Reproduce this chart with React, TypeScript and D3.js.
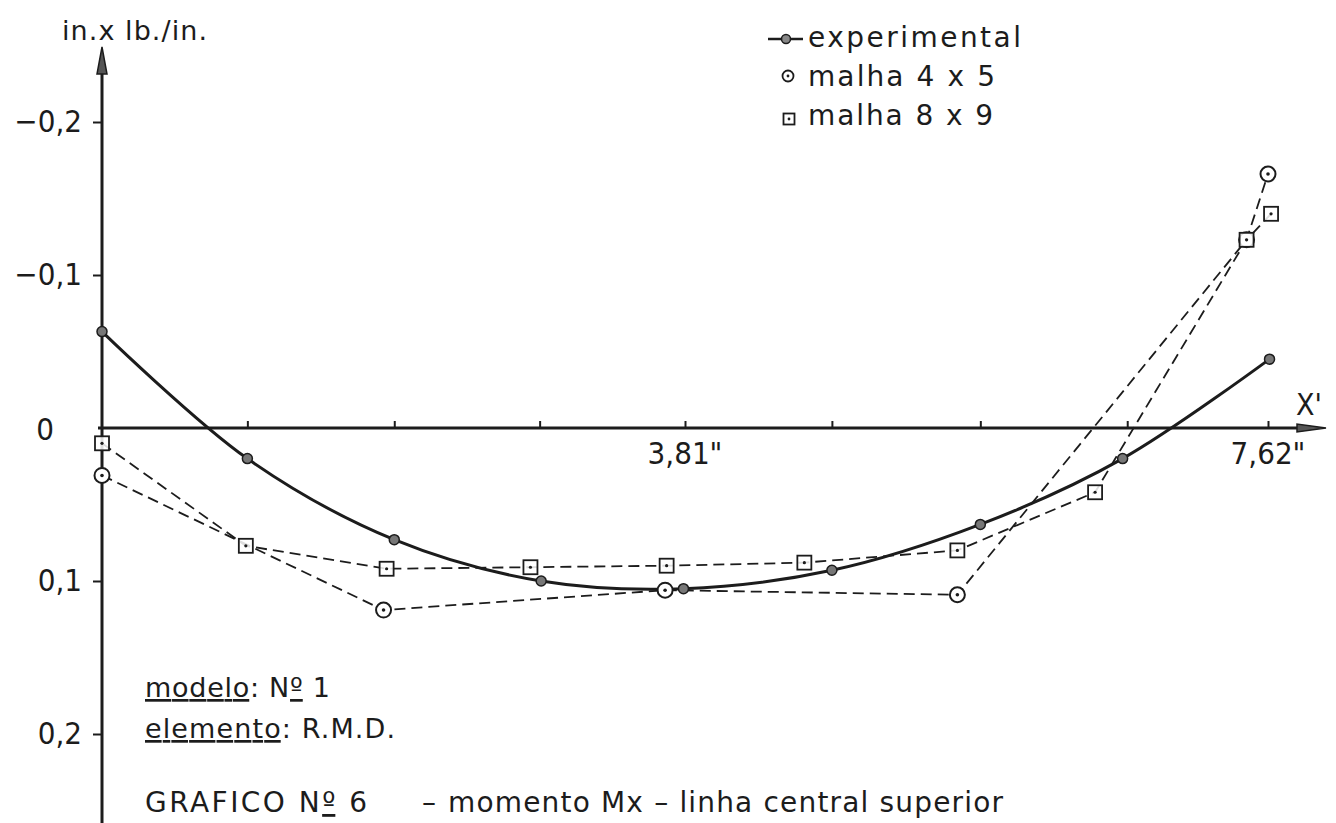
import React, { useEffect, useRef } from "react";
import * as d3 from "d3";

// values (X' in inches, moment in in.x lb./in.)
const expX = [0, 0.95, 1.91, 2.87, 3.8, 4.77, 5.74, 6.67, 7.63];
const expY = [-0.063, 0.02, 0.073, 0.1, 0.105, 0.093, 0.063, 0.02, -0.045];

const m45X = [0, 1.84, 3.68, 5.59, 7.48, 7.62];
const m45Y = [0.031, 0.119, 0.106, 0.109, -0.123, -0.166];

const m89X = [0, 0.94, 1.86, 2.8, 3.69, 4.59, 5.59, 6.49, 7.48, 7.64];
const m89Y = [0.01, 0.077, 0.092, 0.091, 0.09, 0.088, 0.08, 0.042, -0.123, -0.14];

const xTicks = [0.95, 1.91, 2.86, 3.81, 4.77, 5.74, 6.7, 7.62];
const xLabelValues = [3.81, 7.62];
const xLabelTexts = ['3,81"', '7,62"'];
const yTicks = [-0.2, -0.1, 0.1, 0.2];
const yTickLabels = ["\u22120,2", "\u22120,1", "0,1", "0,2"];
const legendLabels = ["experimental", "malha 4 x 5", "malha 8 x 9"];
const legendWidths = [213, 187, 185];

const NUM_FONT = "'DejaVu Sans Condensed', 'DejaVu Sans', sans-serif";
const FONT = "'DejaVu Sans', sans-serif";
const INK = "#1c1c1c";

export default function App() {
    const ref = useRef<SVGSVGElement>(null);

    useEffect(() => {
        document.body.style.margin = "0";
        const svg = d3.select(ref.current);
        svg.selectAll("*").remove();

        const width = 1336;
        const height = 823;
        svg.attr("width", width).attr("height", height);
        svg.append("rect").attr("width", width).attr("height", height).attr("fill", "#fff");

        const x = d3.scaleLinear().domain([0, 7.62]).range([102, 1268]);
        const y = d3.scaleLinear().domain([-0.2, 0.2]).range([122, 734]);
        const x0 = x(0);
        const y0 = y(0);

        // axis lines with arrows
        svg.append("line")
            .attr("x1", x0).attr("x2", x0).attr("y1", 823).attr("y2", 60)
            .attr("stroke", INK).attr("stroke-width", 3);
        svg.append("path")
            .attr("d", `M${x0},47 L${x0 - 5},74 L${x0 + 5},74 Z`)
            .attr("fill", "#555").attr("stroke", INK).attr("stroke-width", 1.5);
        svg.append("line")
            .attr("x1", x0 - 4).attr("x2", 1305).attr("y1", y0).attr("y2", y0)
            .attr("stroke", INK).attr("stroke-width", 3);
        svg.append("path")
            .attr("d", `M1326,${y0} L1297,${y0 - 4} L1297,${y0 + 4} Z`)
            .attr("fill", "#555").attr("stroke", INK).attr("stroke-width", 1.5);

        // x ticks (upwards, no labels)
        const gx = svg.append("g")
            .attr("transform", `translate(0,${y0})`)
            .call(d3.axisTop(x).tickValues(xTicks).tickSize(7).tickFormat(() => ""));
        gx.select(".domain").remove();
        gx.selectAll("line").attr("stroke", INK).attr("stroke-width", 2);

        svg.append("g").selectAll("text")
            .data(xLabelValues)
            .join("text")
            .attr("x", (d) => x(d))
            .attr("y", y0 + 36)
            .attr("text-anchor", "middle")
            .attr("font-family", NUM_FONT)
            .attr("font-size", 31)
            .attr("fill", INK)
            .text((d, i) => xLabelTexts[i]);

        svg.append("text")
            .attr("x", 1296).attr("y", y0 - 13)
            .attr("font-family", NUM_FONT).attr("font-size", 30).attr("fill", INK)
            .text("X'");

        // y ticks
        const gy = svg.append("g")
            .attr("transform", `translate(${x0},0)`)
            .call(d3.axisLeft(y).tickValues(yTicks).tickSize(9).tickPadding(11)
                .tickFormat((d, i) => yTickLabels[i]));
        gy.select(".domain").remove();
        gy.selectAll("line").attr("stroke", INK).attr("stroke-width", 2);
        gy.selectAll("text")
            .attr("font-family", NUM_FONT).attr("font-size", 31).attr("fill", INK);

        svg.append("text")
            .attr("x", 45).attr("y", y0 + 12)
            .attr("text-anchor", "middle")
            .attr("font-family", NUM_FONT).attr("font-size", 31).attr("fill", INK)
            .text("0");

        svg.append("text")
            .attr("x", 62).attr("y", 40)
            .attr("font-family", FONT).attr("font-size", 27).attr("fill", INK)
            .attr("textLength", 145).attr("lengthAdjust", "spacing")
            .text("in.x lb./in.");

        // dashed series
        const dashed = (xs: number[], ys: number[]) =>
            d3.line<number>()
                .x((d) => x(d))
                .y((d, i) => y(ys[i]))(xs);

        svg.append("path")
            .attr("d", dashed(m45X, m45Y))
            .attr("fill", "none").attr("stroke", INK).attr("stroke-width", 1.8)
            .attr("stroke-dasharray", "11 6");
        svg.append("path")
            .attr("d", dashed(m89X, m89Y))
            .attr("fill", "none").attr("stroke", INK).attr("stroke-width", 1.8)
            .attr("stroke-dasharray", "11 6");

        // experimental smooth curve
        const curve = d3.line<number>()
            .x((d) => x(d))
            .y((d, i) => y(expY[i]))
            .curve(d3.curveCatmullRom.alpha(0.5));
        svg.append("path")
            .attr("d", curve(expX))
            .attr("fill", "none").attr("stroke", INK).attr("stroke-width", 3);

        // markers
        const g45 = svg.append("g").selectAll("g")
            .data(m45X).join("g")
            .attr("transform", (d, i) => `translate(${x(d)},${y(m45Y[i])})`);
        g45.append("circle").attr("r", 7.5).attr("fill", "#fff")
            .attr("stroke", INK).attr("stroke-width", 2);
        g45.append("circle").attr("r", 1.8).attr("fill", INK);

        const g89 = svg.append("g").selectAll("g")
            .data(m89X).join("g")
            .attr("transform", (d, i) => `translate(${x(d)},${y(m89Y[i])})`);
        g89.append("rect").attr("x", -7).attr("y", -7).attr("width", 14).attr("height", 14)
            .attr("fill", "#fff").attr("fill-opacity", 0.85)
            .attr("stroke", INK).attr("stroke-width", 1.8);
        g89.append("circle").attr("r", 1.6).attr("fill", INK);

        svg.append("g").selectAll("circle")
            .data(expX).join("circle")
            .attr("cx", (d) => x(d))
            .attr("cy", (d, i) => y(expY[i]))
            .attr("r", 5)
            .attr("fill", "#777").attr("stroke", INK).attr("stroke-width", 1.5);

        // legend
        const legend = svg.append("g");
        legend.append("line")
            .attr("x1", 768).attr("x2", 803).attr("y1", 39).attr("y2", 39)
            .attr("stroke", INK).attr("stroke-width", 2.5);
        legend.append("circle").attr("cx", 786).attr("cy", 39).attr("r", 4.5)
            .attr("fill", "#888").attr("stroke", INK).attr("stroke-width", 1.5);
        legend.append("circle").attr("cx", 788).attr("cy", 76).attr("r", 5.5)
            .attr("fill", "#fff").attr("stroke", INK).attr("stroke-width", 1.8);
        legend.append("circle").attr("cx", 788).attr("cy", 76).attr("r", 1.4).attr("fill", INK);
        legend.append("rect").attr("x", 783.5).attr("y", 113.5).attr("width", 11).attr("height", 11)
            .attr("fill", "#fff").attr("stroke", INK).attr("stroke-width", 1.8);
        legend.append("circle").attr("cx", 789).attr("cy", 119).attr("r", 1.4).attr("fill", INK);
        legend.selectAll("text")
            .data(legendLabels).join("text")
            .attr("x", 808)
            .attr("y", (d, i) => 47 + i * 39)
            .attr("font-family", FONT).attr("font-size", 28).attr("fill", INK)
            .attr("textLength", (d, i) => legendWidths[i]).attr("lengthAdjust", "spacing")
            .text((d) => d);

        // notes at the bottom
        const note1 = svg.append("text")
            .attr("x", 145).attr("y", 697)
            .attr("font-family", FONT).attr("font-size", 27).attr("fill", INK)
            .attr("textLength", 185).attr("lengthAdjust", "spacing");
        note1.append("tspan").attr("text-decoration", "underline").text("modelo");
        note1.append("tspan").text(": N");
        note1.append("tspan").attr("text-decoration", "underline").text("º");
        note1.append("tspan").text(" 1");

        const note2 = svg.append("text")
            .attr("x", 145).attr("y", 738)
            .attr("font-family", FONT).attr("font-size", 27).attr("fill", INK)
            .attr("textLength", 250).attr("lengthAdjust", "spacing");
        note2.append("tspan").attr("text-decoration", "underline").text("elemento");
        note2.append("tspan").text(": R.M.D.");

        const title = svg.append("text")
            .attr("x", 145).attr("y", 812)
            .attr("font-family", FONT).attr("font-size", 28).attr("fill", INK)
            .attr("textLength", 222).attr("lengthAdjust", "spacing");
        title.append("tspan").text("GRAFICO N");
        title.append("tspan").attr("text-decoration", "underline").text("º");
        title.append("tspan").text(" 6");

        svg.append("text")
            .attr("x", 422).attr("y", 812)
            .attr("font-family", FONT).attr("font-size", 28).attr("fill", INK)
            .text("\u2013");

        svg.append("text")
            .attr("x", 448).attr("y", 812)
            .attr("font-family", FONT).attr("font-size", 28).attr("fill", INK)
            .attr("textLength", 555).attr("lengthAdjust", "spacing")
            .text("momento Mx \u2013 linha central superior");
    }, []);

    return (
        <svg ref={ref} style={{ display: "block" }}></svg>
    );
}
